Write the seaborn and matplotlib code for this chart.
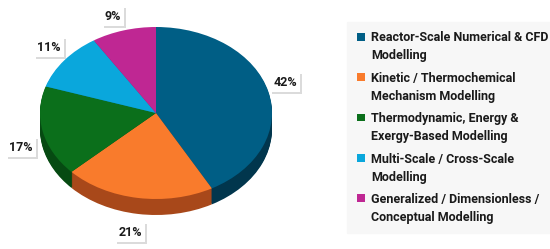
import matplotlib
matplotlib.use("Agg")
import matplotlib.pyplot as plt
import seaborn as sns
from matplotlib.transforms import Affine2D
from matplotlib.patches import Rectangle
from matplotlib.legend_handler import HandlerPatch
import matplotlib.patheffects as pe

sns.set_theme(style="white")
plt.rcParams['font.family'] = ['Roboto', 'DejaVu Sans']

categories = [
    "Reactor-Scale Numerical & CFD\nModelling",
    "Kinetic / Thermochemical\nMechanism Modelling",
    "Thermodynamic, Energy &\nExergy-Based Modelling",
    "Multi-Scale / Cross-Scale\nModelling",
    "Generalized / Dimensionless /\nConceptual Modelling",
]
shares = [42, 21, 17, 11, 9]
pct_labels = ["42%", "21%", "17%", "11%", "9%"]
top_colors = ["#005e85", "#f97b2c", "#0b6f1b", "#0aa7dc", "#bf2793"]
side_colors = ["#01364d", "#a8481a", "#064a12", "#07739a", "#851b66"]

fig = plt.figure(figsize=(5.5, 2.49), dpi=100)
fig.patch.set_facecolor("white")
ax = fig.add_axes([0, 0, 1, 1])

W, H = 550, 249
cx, cy = 156, H - 113
rx, ry = 116, 86
depth = 16

def place(wedges, dy):
    tr = Affine2D().scale(rx, ry).translate(cx, cy - dy) + ax.transData
    for w in wedges:
        w.set_transform(tr)

# side of the disc (stacked layers)
for off in range(depth, 0, -1):
    wd, _ = ax.pie(shares, colors=side_colors, startangle=90, counterclock=False,
                   wedgeprops=dict(linewidth=0))
    place(wd, off)

# top face
top, _ = ax.pie(shares, colors=top_colors, startangle=90, counterclock=False,
                wedgeprops=dict(linewidth=0))
place(top, 0)

ax.set_aspect("auto")
ax.set_xlim(0, W)
ax.set_ylim(0, H)
ax.axis("off")

# percentage labels (image-pixel centres)
label_pos = [(285, 82), (130, 232), (21, 147), (49, 47), (113, 16)]
for txt, (x, y) in zip(pct_labels, label_pos):
    t = ax.text(x, H - y, txt, ha="center", va="center", fontsize=9,
                fontweight="bold", color="#1a1a1a",
                bbox=dict(boxstyle="square,pad=0.25", fc="white", ec="none"))
    t.get_bbox_patch().set_path_effects(
        [pe.withSimplePatchShadow(offset=(1.5, -1.5), shadow_rgbFace="#9a9a9a", alpha=0.35),
         pe.Normal()])


class TopHandler(HandlerPatch):
    def create_artists(self, legend, orig_handle, xdescent, ydescent, width,
                       height, fontsize, trans):
        s = 0.62 * fontsize
        p = Rectangle((-xdescent + (width - s) / 2, -ydescent + (height - s) / 2 + 0.85 * fontsize),
                      s, s, facecolor=orig_handle.get_facecolor(), edgecolor="none",
                      transform=trans)
        return [p]


handles = [Rectangle((0, 0), 1, 1, facecolor=c) for c in top_colors]
leg = ax.legend(handles, categories, loc="upper left",
                bbox_to_anchor=(347 / W, 1 - 22 / H), bbox_transform=fig.transFigure,
                borderaxespad=0, frameon=True, fancybox=False, facecolor="#f7f7f7",
                edgecolor="#f7f7f7", framealpha=1, prop=dict(size=9, weight="bold"),
                handlelength=0.7, handletextpad=0.5, labelspacing=0.75,
                borderpad=0.75, handler_map={Rectangle: TopHandler()})
for t in leg.get_texts():
    t.set_color("#1a1a1a")
    t.set_linespacing(1.5)

fig.savefig("out.png", dpi=100, facecolor="white")
